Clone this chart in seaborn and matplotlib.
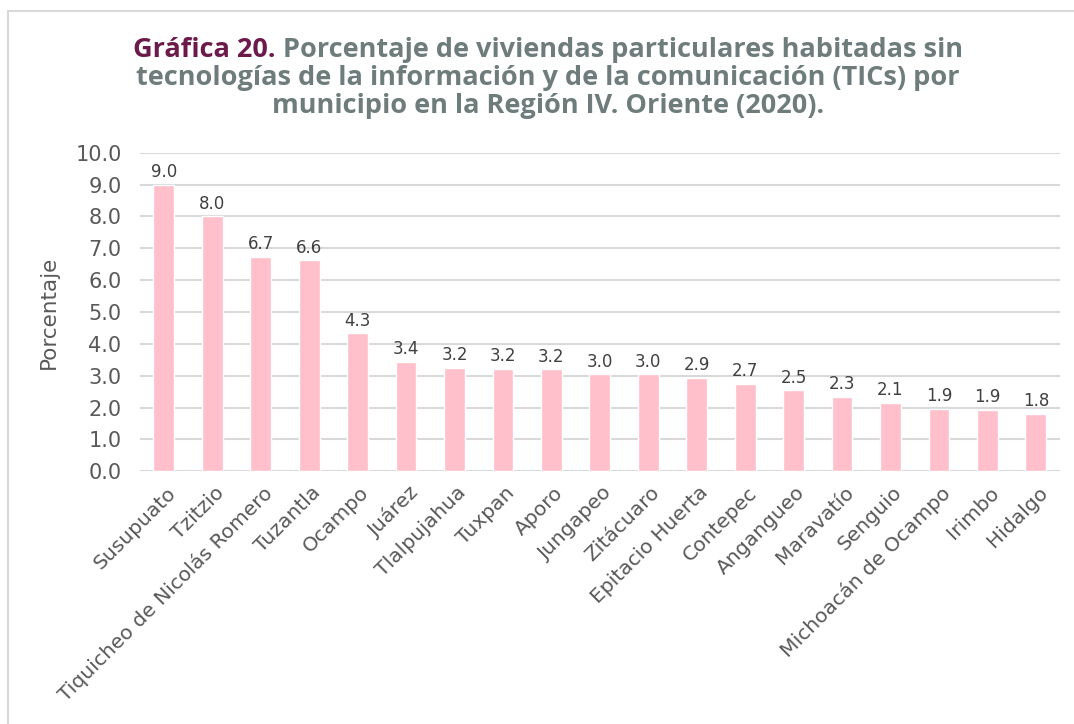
import matplotlib
matplotlib.use("Agg")
import matplotlib.pyplot as plt
import matplotlib.transforms as mtrans
import seaborn as sns
import pandas as pd
from matplotlib.patches import Rectangle

# Data
municipios = ["Susupuato", "Tzitzio", "Tiquicheo de Nicolás Romero", "Tuzantla",
              "Ocampo", "Juárez", "Tlalpujahua", "Tuxpan", "Aporo", "Jungapeo",
              "Zitácuaro", "Epitacio Huerta", "Contepec", "Angangueo", "Maravatío",
              "Senguio", "Michoacán de Ocampo", "Irimbo", "Hidalgo"]
porcentaje = [9.0, 8.0, 6.73, 6.62, 4.33, 3.44, 3.25, 3.21, 3.20, 3.04,
              3.04, 2.92, 2.74, 2.54, 2.33, 2.14, 1.95, 1.92, 1.79]
yticks = [0, 1, 2, 3, 4, 5, 6, 7, 8, 9, 10]

df = pd.DataFrame({"Municipio": municipios, "Porcentaje": porcentaje})

sns.set_style("white")
plt.rcParams["font.family"] = ["DejaVu Sans"]

fig = plt.figure(figsize=(10.74, 7.24), dpi=100)
ax = fig.add_axes([0.130, 0.349, 0.857, 0.440])

# light frame around the chart (cropped on right/bottom in the original)
fig.patches.append(Rectangle((8 / 1074, -0.1), 1.2, 1 - 11 / 724 + 0.1,
                             transform=fig.transFigure, fill=False,
                             edgecolor="#d9d9d9", linewidth=1.5))

sns.barplot(data=df, x="Municipio", y="Porcentaje", color="#ffc0cb",
            width=0.43, saturation=1, ax=ax, zorder=3)

for i, v in enumerate(porcentaje):
    ax.text(i, v + 0.12, f"{v:.1f}", ha="center", va="bottom",
            fontsize=12, color="#404040")

ax.set_ylim(0, 10)
ax.set_xlim(-0.5, len(municipios) - 0.5)
ax.set_yticks(yticks)
ax.set_yticklabels([f"{t:.1f}" for t in yticks], fontsize=15, color="#595959")
ax.yaxis.grid(True, color="#d9d9d9", linewidth=1.5, zorder=0)
ax.set_axisbelow(True)
for s in ax.spines.values():
    s.set_visible(False)
ax.tick_params(axis="y", length=0, pad=13)
ax.tick_params(axis="x", length=0, pad=7)
ax.set_xticks(range(len(municipios)))
ax.set_xticklabels(municipios, rotation=45, ha="right", rotation_mode="anchor",
                   fontsize=14.6, color="#595959")
shift = mtrans.ScaledTranslation(2 / 100, -2 / 100, fig.dpi_scale_trans)
for lbl in ax.get_xticklabels():
    lbl.set_transform(lbl.get_transform() + shift)
ax.set_xlabel("")
ax.set_ylabel("Porcentaje", fontsize=15.5, color="#595959", labelpad=12)

# Title: first words in purple, rest in gray
purple = "#6b1a4a"
gray = "#6e7c7c"
tfont = dict(fontsize=19.5, fontweight="bold", family="Open Sans")
fig.canvas.draw()
r = fig.canvas.get_renderer()
p1 = "Gráfica 20. "
p2 = "Porcentaje de viviendas particulares habitadas sin"
t1 = fig.text(0, 0, p1, color=purple, **tfont)
t2 = fig.text(0, 0, p2, color=gray, **tfont)
w1 = t1.get_window_extent(r).width
w2 = t2.get_window_extent(r).width
x0 = (548 - (w1 + w2) / 2) / 1074
y1 = 1 - 57 / 724
t1.set_position((x0, y1))
t2.set_position((x0 + w1 / 1074, y1))
fig.text(548 / 1074, 1 - 85 / 724,
         "tecnologías de la información y de la comunicación (TICs) por",
         ha="center", color=gray, **tfont)
fig.text(548 / 1074, 1 - 113 / 724,
         "municipio en la Región IV. Oriente (2020).",
         ha="center", color=gray, **tfont)

fig.savefig("out.png", dpi=100)
